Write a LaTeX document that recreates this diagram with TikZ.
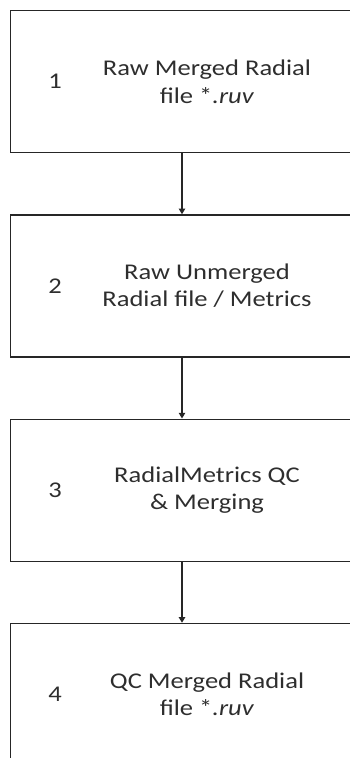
\documentclass[tikz,border=0pt]{standalone}
\usepackage{fontspec}
\setmainfont{Carlito}[FakeStretch=1.18]
\usetikzlibrary{positioning,arrows.meta}
\definecolor{flowline}{HTML}{262626}
\definecolor{flowtext}{HTML}{2E2E2E}

\begin{document}
\begin{tikzpicture}[x=1cm,y=1cm,>={Triangle[width=4.5pt,length=4pt]},font=\fontsize{16}{19.5}\selectfont]
  \tikzstyle{stage}=[draw=flowline, line width=0.9pt, minimum width=9.2cm, minimum height=3.55cm, inner sep=0pt]
  \tikzstyle{stagenum}=[text=flowtext, inner sep=0pt]
  \tikzstyle{stagetext}=[text=flowtext, align=center, inner sep=0pt]
  \tikzstyle{arrow}=[->, line width=0.9pt, draw=flowline]

  \clip (0,0) rectangle (8.75,-18.95);

  \coordinate (spine) at (4.55,0);
  \node[stage, anchor=north west] (rawmerged) at (0.25,-0.25) {};
  \node[stage, below=1.525cm of rawmerged] (rawunmerged) {};
  \node[stage, below=1.525cm of rawunmerged] (metricsqc) {};
  \node[stage, below=1.525cm of metricsqc] (qcmerged) {};

  \node[stagenum] (num1) at ([xshift=1.125cm]rawmerged.west) {1};
  \node[stagetext] (label1) at ([xshift=4.925cm]rawmerged.west) {Raw Merged Radial\\file *\textit{.ruv}};

  \node[stagenum] (num2) at ([xshift=1.125cm]rawunmerged.west) {2};
  \node[stagetext] (label2) at ([xshift=4.925cm]rawunmerged.west) {Raw Unmerged\\Radial file / Metrics};

  \node[stagenum] (num3) at ([xshift=1.125cm]metricsqc.west) {3};
  \node[stagetext] (label3) at ([xshift=4.925cm]metricsqc.west) {RadialMetrics QC\\\& Merging};

  \node[stagenum] (num4) at ([xshift=1.125cm]qcmerged.west) {4};
  \node[stagetext] (label4) at ([xshift=4.925cm]qcmerged.west) {QC Merged Radial\\file *\textit{.ruv}};

  \draw[arrow] (rawmerged.south -| spine) -- (rawunmerged.north -| spine);
  \draw[arrow] (rawunmerged.south -| spine) -- (metricsqc.north -| spine);
  \draw[arrow] (metricsqc.south -| spine) -- (qcmerged.north -| spine);
\end{tikzpicture}
\end{document}
